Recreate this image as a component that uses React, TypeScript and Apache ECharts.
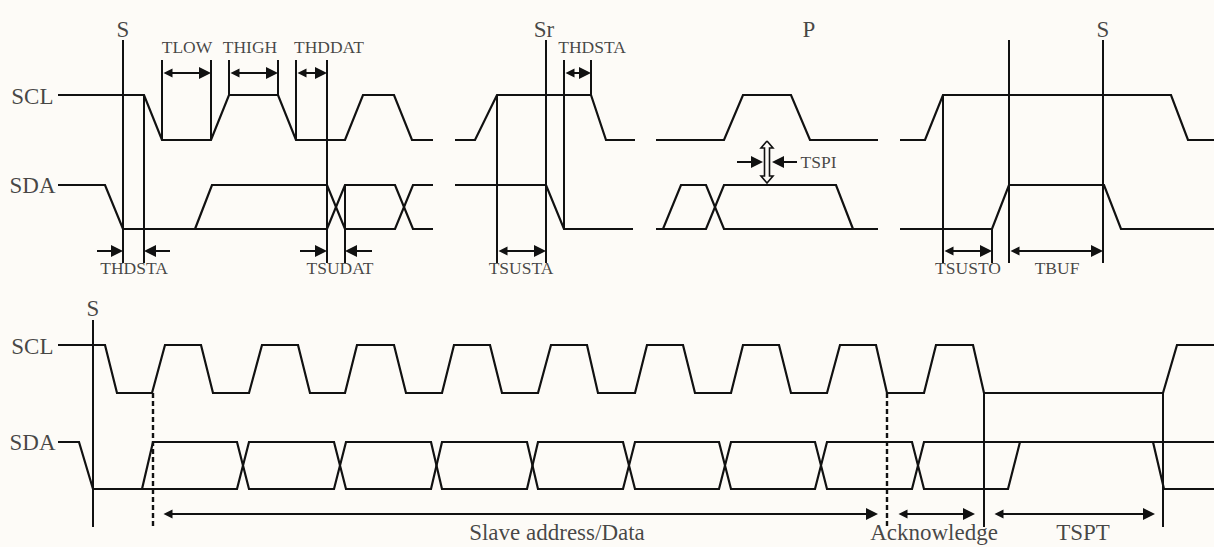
import React, { useEffect, useRef } from "react";
import * as echarts from "echarts";

const W = 1214;
const H = 547;

// ---- Waveform vertices [x, y] in diagram units ----
const sclTop1 = [[58,95],[144,95],[162,140],[211,140],[229,95],[278,95],[296,140],[345,140],[363,95],[394,95],[412,140],[433,140]];
const sdaTop1a = [[58,185],[105,185],[123,229],[327,229],[345,185],[395,185],[413,229],[433,229]];
const sdaTop1b = [[195,229],[212,185],[327,185],[345,229],[395,229],[413,185],[433,185]];
const sclTop2 = [[455,140],[475,140],[497,95],[591,95],[606,140],[635,140]];
const sdaTop2 = [[455,185],[546,185],[564,229],[633,229]];
const sclTop3 = [[656,140],[724,140],[743,95],[791,95],[810,140],[878,140]];
const sdaTop3a = [[656,229],[663,229],[681,185],[706,185],[724,229],[878,229]];
const sdaTop3b = [[656,229],[706,229],[724,185],[836,185],[853,229]];
const sclTop4 = [[900,140],[925,140],[943,95],[1171,95],[1188,140],[1214,140]];
const sdaTop4 = [[900,229],[992,229],[1009,185],[1104,185],[1121,229],[1214,229]];

const sclBottom = [[58,345],[105,345],[117,393],[152,393],[165,345],[201,345],[213,393],[249,393],[262,345],[298,345],[310,393],[345,393],[357,345],[394,345],[406,393],[442,393],[454,345],[490,345],[502,393],[538,393],[551,345],[587,345],[598,393],[635,393],[647,345],[683,345],[695,393],[731,393],[743,345],[779,345],[791,393],[827,393],[840,345],[876,345],[887,393],[924,393],[936,345],[973,345],[984,393],[1163,393],[1177,345],[1214,345]];
const sdaBottomA = [[58,442],[79,442],[93,489],[237,489],[249,442],[334,442],[346,489],[431,489],[442,442],[527,442],[538,489],[623,489],[635,442],[719,442],[731,489],[815,489],[827,442],[912,442],[924,489],[1008,489],[1020,442]];
const sdaBottomB = [[142,489],[153,442],[237,442],[249,489],[334,489],[346,442],[431,442],[442,489],[527,489],[538,442],[623,442],[635,489],[719,489],[731,442],[815,442],[827,489],[912,489],[924,442],[1214,442]];
const sdaBottomC = [[1153,442],[1164,489],[1214,489]];

const waveforms = [sclTop1, sdaTop1a, sdaTop1b, sclTop2, sdaTop2, sclTop3, sdaTop3a, sdaTop3b, sclTop4, sdaTop4, sclBottom, sdaBottomA, sdaBottomB, sdaBottomC];

// ---- Vertical reference lines [x, yFrom, yTo] ----
const solidMarkers = [
  [123,40,263],[144,95,263],[162,60,140],[211,60,140],[229,60,95],[278,60,95],[296,60,140],[327,60,263],[345,185,263],
  [497,95,263],[546,40,263],[564,60,229],[591,60,95],
  [943,95,263],[992,229,263],[1009,40,263],[1103,40,263],
  [93,320,527],[984,393,527],[1163,393,527]
];
const dashedMarkers = [[153,393,527],[887,393,527]];

// ---- Dimension arrows ----
// double-headed [xFrom, xTo, y]
const doubleArrows = [
  [162,211,73],[229,278,73],[296,327,73],[564,591,73],
  [497,546,251],[943,992,251],[1009,1103,251],
  [162,878,514],[897,975,514],[993,1155,514]
];
// single-headed [xTail, xTip, y]
const singleArrows = [[97,123,251],[170,144,251],[300,327,251],[372,345,251],[737,763,162],[797,772,162]];
// hollow vertical double arrow [x, yTop, yBottom]
const spikeArrow = [767,141,183];

// ---- Labels [text, x, y] ----
const signalLabels = [["SCL",54,96],["SDA",56,185],["SCL",54,346],["SDA",56,442]];
const eventLabels = [["S",123,29],["Sr",544,29],["P",809,29],["S",1103,29],["S",93,308]];
const timingLabels = [["TLOW",187,47],["THIGH",250,47],["THDDAT",329,47],["THDSTA",592,47],["THDSTA",134,268],["TSUDAT",340,268],["TSUSTA",521,268],["TSUSTO",968,268],["TBUF",1057,268]];
const sideLabels = [["TSPI",800,162]];
const phaseLabels = [["Slave address/Data",557,532],["Acknowledge",934,532],["TSPT",1083,532]];

const INK = "#111111";
const TXT = "#151515";
const SERIF = "'Liberation Serif', 'Times New Roman', serif";
const HEAD = 12;

function labelSeries(items: any[], fontSize: number, position: any) {
  return {
    type: "scatter",
    silent: true,
    symbolSize: 1,
    itemStyle: { color: "rgba(0,0,0,0)" },
    data: items.map(([t, x, y]) => ({ name: t, value: [x, y] })),
    label: {
      show: true,
      position,
      distance: 0,
      formatter: "{b}",
      fontFamily: SERIF,
      fontSize,
      color: TXT,
    },
    emphasis: { disabled: true },
    z: 5,
  };
}

export default function App() {
  const ref = useRef<HTMLDivElement>(null);
  useEffect(() => {
    const chart = echarts.init(ref.current!, null, { renderer: "svg" });
    const half = HEAD / 2;
    const dbl = doubleArrows.map(([a, b, y]) => {
      const s = a < b ? 1 : -1;
      return { coords: [[a + s * half, y], [b - s * half, y]] };
    });
    const sgl = singleArrows.map(([a, b, y]) => {
      const s = a < b ? 1 : -1;
      return { coords: [[a, y], [b - s * half, y]] };
    });
    const [sx, st, sb] = spikeArrow;
    const hw = 2.5, hh = 6, hl = 7;
    const spikeOutline = [
      [sx, st], [sx + hh, st + hl], [sx + hw, st + hl], [sx + hw, sb - hl], [sx + hh, sb - hl], [sx, sb],
      [sx - hh, sb - hl], [sx - hw, sb - hl], [sx - hw, st + hl], [sx - hh, st + hl], [sx, st]
    ];
    chart.setOption({
      animation: false,
      backgroundColor: "#fdfbf7",
      grid: { left: 0, right: 0, top: 0, bottom: 0 },
      xAxis: { type: "value", min: 0, max: W, show: false },
      yAxis: { type: "value", min: 0, max: H, inverse: true, show: false },
      series: [
        {
          type: "lines",
          coordinateSystem: "cartesian2d",
          polyline: true,
          silent: true,
          lineStyle: { color: INK, width: 2.2, opacity: 1 },
          data: waveforms.map((w) => ({ coords: w })),
        },
        {
          type: "lines",
          coordinateSystem: "cartesian2d",
          silent: true,
          lineStyle: { color: INK, width: 2, opacity: 1 },
          data: solidMarkers.map(([x, a, b]) => ({ coords: [[x, a], [x, b]] })),
        },
        {
          type: "lines",
          coordinateSystem: "cartesian2d",
          silent: true,
          lineStyle: { color: INK, width: 2.4, type: [5, 3], opacity: 1 },
          data: dashedMarkers.map(([x, a, b]) => ({ coords: [[x, a], [x, b]] })),
        },
        {
          type: "lines",
          coordinateSystem: "cartesian2d",
          silent: true,
          symbol: ["triangle", "triangle"],
          symbolSize: [9, HEAD],
          lineStyle: { color: INK, width: 2, opacity: 1 },
          itemStyle: { color: INK },
          data: dbl,
        },
        {
          type: "lines",
          coordinateSystem: "cartesian2d",
          silent: true,
          symbol: ["none", "triangle"],
          symbolSize: [9, HEAD],
          lineStyle: { color: INK, width: 2, opacity: 1 },
          data: sgl,
        },
        {
          type: "lines",
          coordinateSystem: "cartesian2d",
          polyline: true,
          silent: true,
          lineStyle: { color: INK, width: 1.6, opacity: 1 },
          data: [{ coords: spikeOutline }],
        },
        labelSeries(signalLabels, 23, "left"),
        labelSeries(eventLabels, 23, "inside"),
        labelSeries(timingLabels, 17.5, "inside"),
        labelSeries(sideLabels, 17.5, "right"),
        labelSeries(phaseLabels, 23, "inside"),
      ],
    });
    return () => chart.dispose();
  }, []);
  return (
    <div
      ref={ref}
      style={{ position: "fixed", left: 0, top: 0, width: W, height: H, background: "#fdfbf7" }}
    />
  );
}
